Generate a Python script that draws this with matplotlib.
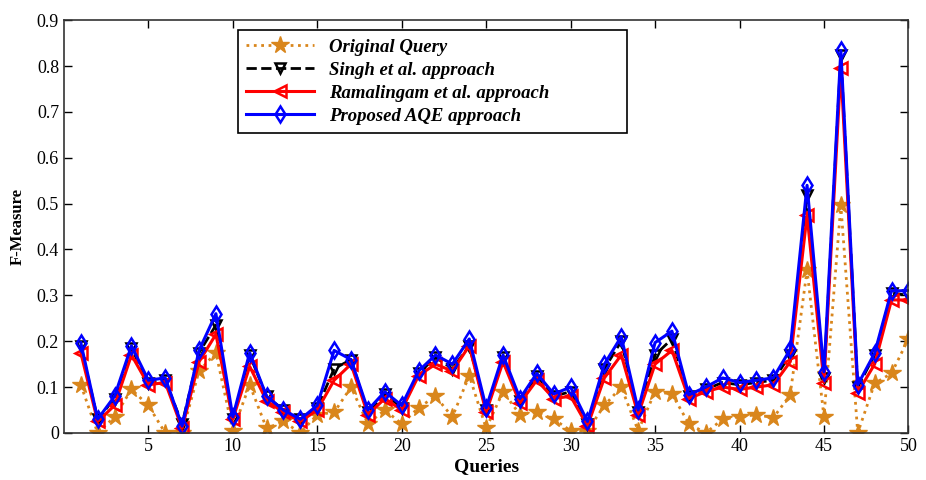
"""
F-Measure per query for the four query expansion approaches.
"""

import matplotlib
matplotlib.use("Agg")
import matplotlib.pyplot as plt

queries = list(range(1, 51))

original = [0.105, 0.0, 0.035, 0.095, 0.06, 0.0, 0.0, 0.135, 0.175, 0.005,
            0.105, 0.01, 0.025, 0.0, 0.04, 0.045, 0.10, 0.02, 0.05, 0.02,
            0.055, 0.08, 0.035, 0.125, 0.01, 0.09, 0.04, 0.045, 0.03, 0.005,
            0.005, 0.06, 0.10, 0.005, 0.09, 0.085, 0.02, 0.0, 0.03, 0.035,
            0.04, 0.033, 0.083, 0.355, 0.035, 0.497, 0.0, 0.108, 0.13, 0.205]

singh = [0.19, 0.03, 0.075, 0.185, 0.11, 0.115, 0.02, 0.175, 0.235, 0.03,
         0.17, 0.08, 0.05, 0.03, 0.055, 0.14, 0.16, 0.045, 0.085, 0.055,
         0.13, 0.165, 0.14, 0.19, 0.05, 0.165, 0.07, 0.125, 0.08, 0.09,
         0.02, 0.14, 0.20, 0.045, 0.17, 0.205, 0.08, 0.095, 0.11, 0.105,
         0.11, 0.115, 0.17, 0.518, 0.12, 0.823, 0.10, 0.17, 0.305, 0.30]

ramalingam = [0.175, 0.025, 0.06, 0.17, 0.105, 0.11, 0.01, 0.155, 0.215, 0.03,
              0.145, 0.07, 0.045, 0.025, 0.05, 0.115, 0.15, 0.04, 0.075, 0.05,
              0.125, 0.15, 0.135, 0.19, 0.045, 0.155, 0.065, 0.115, 0.075, 0.08,
              0.015, 0.12, 0.17, 0.04, 0.15, 0.18, 0.075, 0.09, 0.10, 0.095,
              0.10, 0.105, 0.155, 0.475, 0.11, 0.795, 0.088, 0.15, 0.29, 0.29]

proposed = [0.197, 0.03, 0.08, 0.19, 0.115, 0.12, 0.015, 0.18, 0.26, 0.035,
            0.175, 0.08, 0.05, 0.03, 0.06, 0.18, 0.16, 0.05, 0.09, 0.06,
            0.135, 0.17, 0.15, 0.205, 0.055, 0.17, 0.075, 0.13, 0.085, 0.10,
            0.025, 0.15, 0.21, 0.05, 0.197, 0.222, 0.083, 0.10, 0.12, 0.11,
            0.115, 0.12, 0.182, 0.54, 0.133, 0.834, 0.105, 0.174, 0.31, 0.31]

labels = ["Original Query", "Singh et al. approach",
          "Ramalingam et al. approach", "Proposed AQE approach"]

x_ticks = [5, 10, 15, 20, 25, 30, 35, 40, 45, 50]
y_ticks = [0, 0.1, 0.2, 0.3, 0.4, 0.5, 0.6, 0.7, 0.8, 0.9]
y_tick_labels = ["0", "0.1", "0.2", "0.3", "0.4", "0.5", "0.6", "0.7", "0.8", "0.9"]

plt.rcParams['font.family'] = ['Liberation Serif', 'DejaVu Serif']

fig = plt.figure(figsize=(9.26, 4.8), dpi=100)
ax = fig.add_axes([0.069, 0.098, 0.912, 0.86])

orange = '#D9861C'
ax.plot(queries, original, linestyle=':', color=orange, linewidth=2,
        marker='*', markersize=13, markerfacecolor=orange,
        markeredgecolor=orange, label=labels[0])
ax.plot(queries, singh, linestyle='--', color='black', linewidth=2,
        marker='v', markersize=7, markerfacecolor='none',
        markeredgewidth=1.8, label=labels[1])
ax.plot(queries, ramalingam, linestyle='-', color='red', linewidth=2.2,
        marker='<', markersize=8, markerfacecolor='none',
        markeredgewidth=1.8, label=labels[2])
ax.plot(queries, proposed, linestyle='-', color='blue', linewidth=2.2,
        marker='d', markersize=8, markerfacecolor='none',
        markeredgewidth=1.8, label=labels[3])

ax.set_xlim(0, 50)
ax.set_ylim(0, 0.9)
ax.set_xticks(x_ticks)
ax.set_yticks(y_ticks)
ax.set_yticklabels(y_tick_labels)
ax.tick_params(direction='in', top=True, right=True, length=6,
               labelsize=13, width=1)
for spine in ax.spines.values():
    spine.set_linewidth(1.2)
    spine.set_color('#333333')

ax.set_xlabel('Queries', fontsize=14, fontweight='bold', labelpad=2)
ax.set_ylabel('F-Measure', fontsize=12, fontweight='bold', labelpad=8)

# box is wider than its text in the original, so stretch it
leg = ax.legend(loc='upper left', bbox_to_anchor=(0.206, 0.5, 0.461, 0.476),
                mode='expand', borderaxespad=0, fancybox=False, framealpha=1,
                edgecolor='black', handlelength=3.6,
                prop={'size': 13.5, 'style': 'italic', 'weight': 'bold'},
                labelspacing=0.32, borderpad=0.45)
leg.get_frame().set_linewidth(1.2)

fig.savefig('out.png', dpi=100)
